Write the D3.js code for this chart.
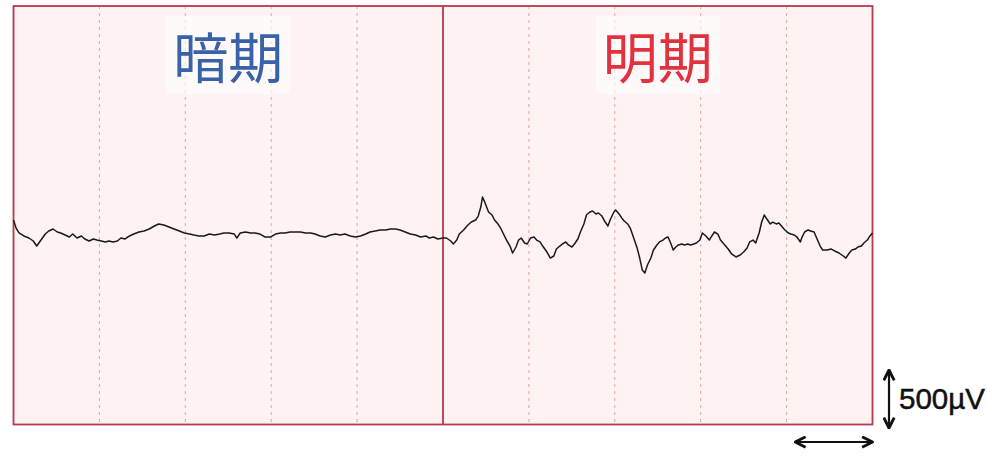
<!DOCTYPE html>
<html>
<head>
<meta charset="utf-8">
<script src="https://cdn.jsdelivr.net/npm/d3@7"></script>
<style>
  body { margin: 0; background: #fff; }
  svg { display: block; }
</style>
</head>
<body>
<div id="chart"></div>
<script>
// time in seconds, amplitude in µV
var darkT = [0,0.03,0.065,0.12,0.18,0.23,0.27,0.32,0.37,0.41,0.46,0.51,0.55,0.6,0.65,0.69,0.74,0.79,0.83,0.88,0.93,0.97,1.02,1.07,1.11,1.16,1.21,1.25,1.3,1.35,1.4,1.46,1.52,1.58,1.64,1.69,1.75,1.81,1.87,1.93,1.99,2.05,2.1,2.16,2.22,2.28,2.34,2.4,2.45,2.51,2.57,2.6,2.64,2.7,2.76,2.81,2.87,2.93,2.99,3.05,3.11,3.16,3.22,3.28,3.34,3.4,3.46,3.51,3.57,3.63,3.69,3.75,3.8,3.86,3.92,3.98,4.04,4.1,4.15,4.21,4.27,4.33,4.39,4.45,4.5,4.56,4.62,4.68,4.74,4.8,4.84,4.89,4.94,5.0];
var darkV = [125,58,17,-8,-25,-50,-92,-42,8,33,50,25,17,0,-17,8,-25,-8,-33,-50,-33,-42,-50,-58,-50,-58,-50,-25,-33,-8,8,25,33,50,75,92,83,67,50,33,17,8,0,-8,-8,8,0,8,17,17,8,-25,17,25,17,17,8,-17,-17,8,17,17,25,25,25,17,17,8,-8,-17,0,8,0,8,-8,-17,-8,8,25,33,42,42,50,50,42,25,8,0,-17,-8,-25,-17,-33,-25];

var lightT = [5.04,5.09,5.12,5.16,5.19,5.24,5.29,5.33,5.38,5.41,5.44,5.46,5.49,5.53,5.57,5.6,5.64,5.67,5.71,5.74,5.78,5.81,5.85,5.88,5.91,5.95,5.98,6.02,6.06,6.09,6.13,6.16,6.21,6.25,6.29,6.32,6.36,6.39,6.43,6.46,6.5,6.53,6.57,6.6,6.64,6.67,6.71,6.74,6.78,6.81,6.85,6.88,6.92,6.95,6.99,7.01,7.05,7.08,7.11,7.15,7.18,7.22,7.26,7.29,7.32,7.35,7.38,7.42,7.45,7.49,7.52,7.56,7.59,7.62,7.65,7.68,7.71,7.74,7.78,7.81,7.85,7.88,7.92,7.95,7.99,8.02,8.06,8.1,8.13,8.16,8.2,8.23,8.27,8.32,8.36,8.41,8.46,8.5,8.54,8.57,8.61,8.64,8.68,8.71,8.74,8.77,8.81,8.84,8.88,8.91,8.95,8.98,9.02,9.05,9.09,9.12,9.16,9.18,9.21,9.25,9.28,9.32,9.35,9.39,9.42,9.47,9.52,9.56,9.61,9.66,9.69,9.73,9.76,9.8,9.83,9.87,9.9,9.94,9.97,10];
var lightV = [-25,-50,-75,-42,8,42,83,108,125,158,233,317,267,192,167,125,92,58,0,-42,-92,-150,-100,-42,-25,-67,-75,-25,-17,-42,-58,-92,-142,-192,-175,-117,-92,-75,-58,-83,-100,-75,-33,25,92,167,192,200,175,183,158,117,75,133,192,208,175,142,117,92,58,-25,-108,-192,-292,-317,-250,-192,-125,-83,-58,-42,-25,-17,-67,-125,-100,-83,-75,-83,-75,-83,-75,-67,-42,17,-8,-42,-8,25,8,-42,-75,-117,-158,-183,-167,-142,-108,-58,-42,-67,17,108,167,133,92,108,92,100,67,42,17,8,0,-17,-58,-17,25,42,33,25,-25,-92,-125,-125,-117,-133,-150,-175,-192,-150,-125,-117,-100,-92,-67,-42,-8,17];

var gridTicks = [1,2,3,4,6,7,8,9];
var phases = ["暗期","明期"];
var phaseColors = ["#3a62a8","#e2313f"];
var scaleLabel = "500µV";

var W = 987, H = 457;
var frame = {left: 13.5, right: 872.5, top: 6, bottom: 424.5};

var svg = d3.select("#chart").append("svg")
  .attr("width", W).attr("height", H);

var x = d3.scaleLinear().domain([0,10]).range([frame.left, frame.right]);
var y = d3.scaleLinear().domain([-500,500]).range([295,175]);

// background panel
svg.append("rect")
  .attr("x", frame.left).attr("y", frame.top)
  .attr("width", frame.right - frame.left).attr("height", frame.bottom - frame.top)
  .attr("fill", "#fff2f2");

// dashed grid
svg.selectAll(".grid").data(gridTicks).enter().append("line")
  .attr("class","grid")
  .attr("x1", d => x(d)).attr("x2", d => x(d))
  .attr("y1", frame.top).attr("y2", frame.bottom)
  .attr("stroke", "#dca6a6").attr("stroke-width", 1)
  .attr("stroke-dasharray", "3,4");

// phase labels with white box behind
phases.forEach(function(p, i){
  var cx = x(i*5 + 2.5);
  svg.append("rect")
    .attr("x", cx - 62).attr("y", 16)
    .attr("width", 124).attr("height", 78)
    .attr("fill", "#fff").attr("opacity", 0.6);
  svg.append("text")
    .attr("x", cx).attr("y", 78)
    .attr("text-anchor", "middle")
    .attr("font-family", "'Noto Sans CJK JP'")
    .attr("font-size", 55)
    .attr("fill", phaseColors[i])
    .text(p);
});

// frame + divider
svg.append("rect")
  .attr("x", frame.left).attr("y", frame.top)
  .attr("width", frame.right - frame.left).attr("height", frame.bottom - frame.top)
  .attr("fill", "none").attr("stroke", "#b8384f").attr("stroke-width", 1.8);
svg.append("line")
  .attr("x1", x(5)).attr("x2", x(5))
  .attr("y1", frame.top).attr("y2", frame.bottom)
  .attr("stroke", "#b8384f").attr("stroke-width", 1.8);

// EEG trace
var line = d3.line().x(d => x(d[0])).y(d => y(d[1]));
svg.append("path")
  .attr("d", line(d3.zip(darkT.concat(lightT), darkV.concat(lightV))))
  .attr("fill", "none").attr("stroke", "#1a1a1a").attr("stroke-width", 1.5)
  .attr("stroke-linejoin", "round");

// arrowheads
var defs = svg.append("defs");
defs.append("marker").attr("id","arr")
  .attr("viewBox","0 0 10 10").attr("refX",9).attr("refY",5)
  .attr("markerWidth",13).attr("markerHeight",13).attr("markerUnits","userSpaceOnUse")
  .attr("orient","auto-start-reverse")
  .append("path").attr("d","M1,1 L9,5 L1,9")
  .attr("fill","none").attr("stroke","#111").attr("stroke-width",2.2)
  .attr("stroke-linejoin","round");

// vertical scale bar (500 µV)
svg.append("line")
  .attr("x1", 889).attr("x2", 889)
  .attr("y1", y(0) + 135).attr("y2", y(0) + 135 + (y(0) - y(500)) - 2)
  .attr("stroke","#111").attr("stroke-width",2.2)
  .attr("marker-start","url(#arr)").attr("marker-end","url(#arr)");
svg.append("text")
  .attr("x", 899).attr("y", 409)
  .attr("font-family","'Liberation Sans', Arial")
  .attr("font-size", 30)
  .attr("textLength", 86).attr("lengthAdjust", "spacingAndGlyphs")
  .attr("fill","#111").attr("stroke","#111").attr("stroke-width",0.5)
  .text(scaleLabel);

// horizontal scale bar (1 s)
svg.append("line")
  .attr("x1", x(9.1)).attr("x2", x(10))
  .attr("y1", 442).attr("y2", 442)
  .attr("stroke","#111").attr("stroke-width",2.2)
  .attr("marker-start","url(#arr)").attr("marker-end","url(#arr)");
</script>
</body>
</html>
